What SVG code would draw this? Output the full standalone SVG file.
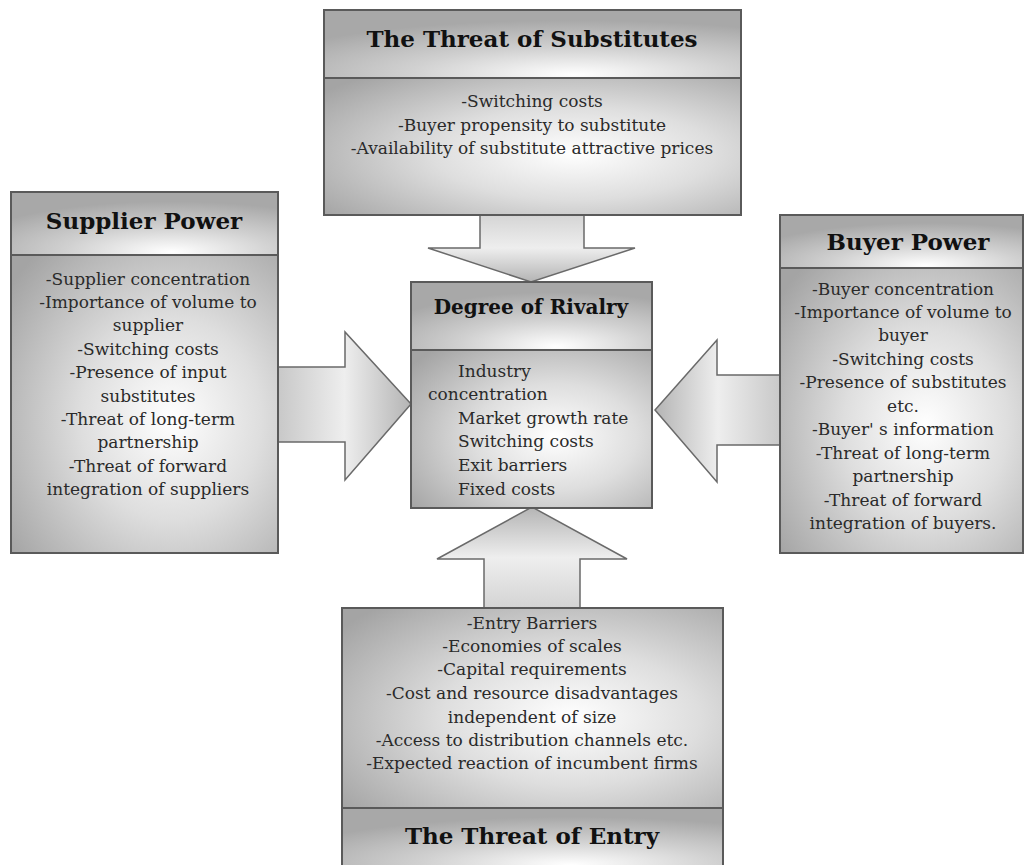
<svg xmlns="http://www.w3.org/2000/svg" width="1024" height="865" viewBox="0 0 1024 865">
<defs>
<radialGradient id="body" cx="0.6" cy="0.55" r="0.75">
<stop offset="0" stop-color="#ffffff"/>
<stop offset="0.45" stop-color="#dedede"/>
<stop offset="1" stop-color="#a4a4a4"/>
</radialGradient>
<radialGradient id="head" cx="0.6" cy="0.95" r="0.8" fx="0.6" fy="0.95">
<stop offset="0" stop-color="#ffffff"/>
<stop offset="0.5" stop-color="#d0d0d0"/>
<stop offset="1" stop-color="#a8a8a8"/>
</radialGradient>
<linearGradient id="arrH" x1="0" y1="0" x2="1" y2="0">
<stop offset="0" stop-color="#c8c8c8"/>
<stop offset="0.5" stop-color="#eeeeee"/>
<stop offset="1" stop-color="#b4b4b4"/>
</linearGradient>
<linearGradient id="arrH2" x1="1" y1="0" x2="0" y2="0">
<stop offset="0" stop-color="#c8c8c8"/>
<stop offset="0.5" stop-color="#eeeeee"/>
<stop offset="1" stop-color="#b4b4b4"/>
</linearGradient>
<linearGradient id="arrV" x1="0" y1="0" x2="0" y2="1">
<stop offset="0" stop-color="#d4d4d4"/>
<stop offset="0.5" stop-color="#eeeeee"/>
<stop offset="1" stop-color="#b4b4b4"/>
</linearGradient>
<linearGradient id="arrV2" x1="0" y1="1" x2="0" y2="0">
<stop offset="0" stop-color="#d4d4d4"/>
<stop offset="0.5" stop-color="#eeeeee"/>
<stop offset="1" stop-color="#b4b4b4"/>
</linearGradient>
</defs>
<style>
.box{stroke:#5a5a5a;stroke-width:2;fill:url(#body)}
.hd{stroke:#5a5a5a;stroke-width:2;fill:url(#head)}
.arr{stroke:#6a6a6a;stroke-width:1.5;stroke-linejoin:miter}
.t{font-family:"DejaVu Serif","Liberation Serif",serif;font-weight:bold;font-size:23px;fill:#111;text-anchor:middle}
.b{font-family:"DejaVu Serif","Liberation Serif",serif;font-size:17px;fill:#2a2a2a;text-anchor:middle}
.l{text-anchor:start}
</style>
<rect width="1024" height="865" fill="#ffffff"/>

<g id="connectors">
<polygon class="arr" fill="url(#arrV)" points="480,214 584,214 584,248 635,248 531,282 428,248 480,248"/>
<polygon class="arr" fill="url(#arrH)" points="278,367 345,367 345,332 411,404 345,480 345,442 278,442"/>
<polygon class="arr" fill="url(#arrH2)" points="781,375 717,375 717,340 655,410 717,482 717,445 781,445"/>
<polygon class="arr" fill="url(#arrV2)" points="484,608 484,559 437,559 532,507 627,559 580,559 580,608"/>
</g>

<g id="substitutes">
<rect class="hd" x="324" y="10" width="417" height="68"/>
<rect class="box" x="324" y="78" width="417" height="137"/>
<text class="t" x="532" y="47">The Threat of Substitutes</text>
<text class="b" x="532" y="107">-Switching costs</text>
<text class="b" x="532" y="131">-Buyer propensity to substitute</text>
<text class="b" x="532" y="154">-Availability of substitute attractive prices</text>
</g>

<g id="supplier">
<rect class="hd" x="11" y="192" width="267" height="63"/>
<rect class="box" x="11" y="255" width="267" height="298"/>
<text class="t" x="144" y="229">Supplier Power</text>
<text class="b" x="148" y="285">-Supplier concentration</text>
<text class="b" x="148" y="308">-Importance of volume to</text>
<text class="b" x="148" y="331">supplier</text>
<text class="b" x="148" y="355">-Switching costs</text>
<text class="b" x="148" y="378">-Presence of input</text>
<text class="b" x="148" y="402">substitutes</text>
<text class="b" x="148" y="425">-Threat of long-term</text>
<text class="b" x="148" y="448">partnership</text>
<text class="b" x="148" y="472">-Threat of forward</text>
<text class="b" x="148" y="495">integration of suppliers</text>
</g>

<g id="rivalry">
<rect class="hd" x="411" y="282" width="241" height="68"/>
<rect class="box" x="411" y="350" width="241" height="158"/>
<text class="t" x="531" y="314" style="font-size:20px">Degree of Rivalry</text>
<text class="b l" x="458" y="377">Industry</text>
<text class="b l" x="428" y="400">concentration</text>
<text class="b l" x="458" y="424">Market growth rate</text>
<text class="b l" x="458" y="447">Switching costs</text>
<text class="b l" x="458" y="471">Exit barriers</text>
<text class="b l" x="458" y="495">Fixed costs</text>
</g>

<g id="buyer">
<rect class="hd" x="780" y="215" width="243" height="53"/>
<rect class="box" x="780" y="268" width="243" height="285"/>
<text class="t" x="908" y="250">Buyer Power</text>
<text class="b" x="903" y="295">-Buyer concentration</text>
<text class="b" x="903" y="318">-Importance of volume to</text>
<text class="b" x="903" y="341">buyer</text>
<text class="b" x="903" y="365">-Switching costs</text>
<text class="b" x="903" y="388">-Presence of substitutes</text>
<text class="b" x="903" y="412">etc.</text>
<text class="b" x="903" y="435">-Buyer' s information</text>
<text class="b" x="903" y="459">-Threat of long-term</text>
<text class="b" x="903" y="482">partnership</text>
<text class="b" x="903" y="506">-Threat of forward</text>
<text class="b" x="903" y="529">integration of buyers.</text>
</g>

<g id="entry">
<rect class="box" x="342" y="608" width="381" height="200"/>
<rect class="hd" x="342" y="808" width="381" height="60"/>
<text class="t" x="532" y="844">The Threat of Entry</text>
<text class="b" x="532" y="629">-Entry Barriers</text>
<text class="b" x="532" y="652">-Economies of scales</text>
<text class="b" x="532" y="675">-Capital requirements</text>
<text class="b" x="532" y="699">-Cost and resource disadvantages</text>
<text class="b" x="532" y="723">independent of size</text>
<text class="b" x="532" y="746">-Access to distribution channels etc.</text>
<text class="b" x="532" y="769">-Expected reaction of incumbent firms</text>
</g>
</svg>
